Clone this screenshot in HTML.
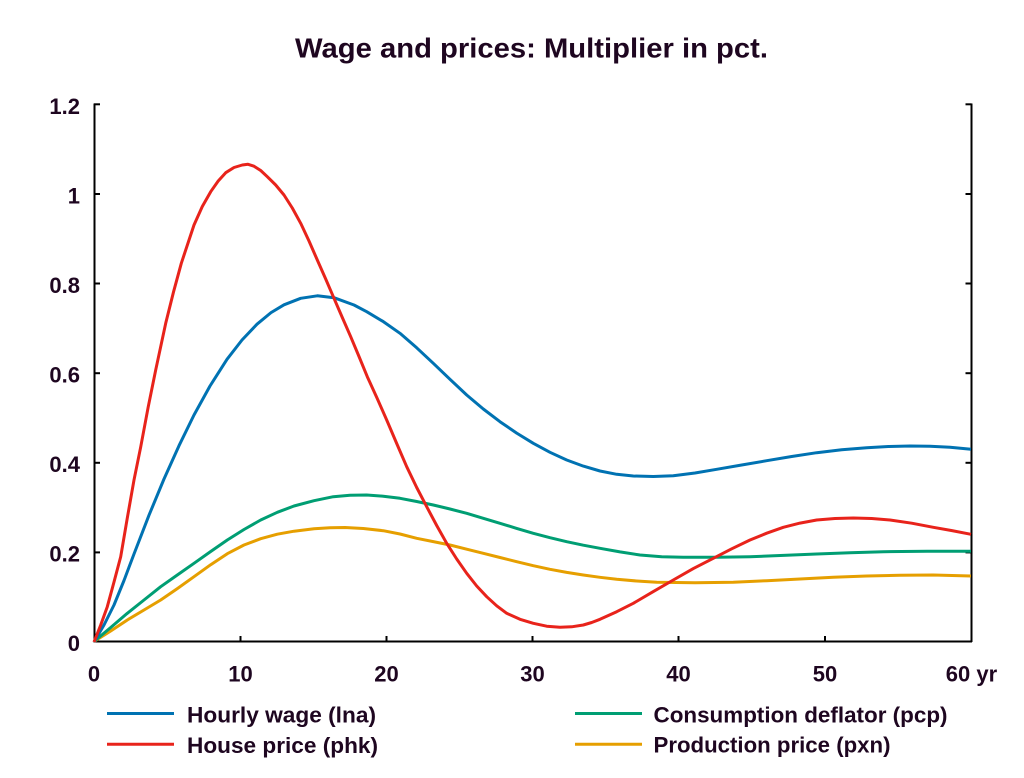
<!DOCTYPE html>
<html>
<head>
<meta charset="utf-8">
<style>
  html,body{margin:0;padding:0;background:#fff;}
  svg{display:block;}
  text{font-family:"Liberation Sans", Arial, sans-serif;fill:#1e0620;font-weight:bold;}
</style>
</head>
<body>
<svg width="1024" height="778" viewBox="0 0 1024 778" xmlns="http://www.w3.org/2000/svg">
  <rect x="0" y="0" width="1024" height="778" fill="#fff"/>

  <!-- Title -->
  <text x="295" y="57.5" font-size="28" textLength="473" lengthAdjust="spacingAndGlyphs">Wage and prices: Multiplier in pct.</text>

  <!-- Axes -->
  <g stroke="#000" stroke-width="2" fill="none">
    <line x1="94.5" y1="103.5" x2="94.5" y2="642"/>
    <line x1="93.5" y1="641.5" x2="972" y2="641.5"/>
    <line x1="971.5" y1="103.5" x2="971.5" y2="642"/>
    <!-- left ticks -->
    <line x1="94" y1="104.3" x2="100" y2="104.3"/>
    <line x1="94" y1="194" x2="100" y2="194"/>
    <line x1="94" y1="283.5" x2="100" y2="283.5"/>
    <line x1="94" y1="373.2" x2="100" y2="373.2"/>
    <line x1="94" y1="462.8" x2="100" y2="462.8"/>
    <line x1="94" y1="552.4" x2="100" y2="552.4"/>
    <!-- right ticks -->
    <line x1="965.5" y1="104.3" x2="971.5" y2="104.3"/>
    <line x1="965.5" y1="194" x2="971.5" y2="194"/>
    <line x1="965.5" y1="283.5" x2="971.5" y2="283.5"/>
    <line x1="965.5" y1="373.2" x2="971.5" y2="373.2"/>
    <line x1="965.5" y1="462.8" x2="971.5" y2="462.8"/>
    <line x1="965.5" y1="552.4" x2="971.5" y2="552.4"/>
    <!-- bottom ticks -->
    <line x1="240.5" y1="636" x2="240.5" y2="642"/>
    <line x1="386.5" y1="636" x2="386.5" y2="642"/>
    <line x1="532.5" y1="636" x2="532.5" y2="642"/>
    <line x1="678.5" y1="636" x2="678.5" y2="642"/>
    <line x1="825" y1="636" x2="825" y2="642"/>
  </g>

  <!-- Y tick labels -->
  <g font-size="22" text-anchor="end">
    <text x="80" y="113.8">1.2</text>
    <text x="80" y="203.3">1</text>
    <text x="80" y="292.8">0.8</text>
    <text x="80" y="382.5">0.6</text>
    <text x="80" y="472.1">0.4</text>
    <text x="80" y="561.7">0.2</text>
    <text x="80" y="651">0</text>
  </g>

  <!-- X tick labels -->
  <g font-size="22" text-anchor="middle">
    <text x="94" y="681.5">0</text>
    <text x="240.5" y="681.5">10</text>
    <text x="386.5" y="681.5">20</text>
    <text x="532.5" y="681.5">30</text>
    <text x="678.5" y="681.5">40</text>
    <text x="825" y="681.5">50</text>
    <text x="971.5" y="681.5">60 yr</text>
  </g>

  <!-- Series -->
  <g fill="none" stroke-width="3" stroke-linejoin="round" stroke-linecap="butt">
    <!-- Orange: Production price -->
    <polyline stroke="#e69f00" points="94,641.5 110.7,631 127.3,620 144,610 160.7,600 177.3,588.6 194,576.7 210.7,564.7 227.3,553.7 244,545 260.7,538.7 277.3,534.2 294,531.2 314,528.8 330,527.8 345,527.5 363.3,528.5 383.3,530.7 400,534 416.7,538.3 433.3,541.6 450,545 466.7,549.2 483.3,553.3 500,557.5 516.7,561.7 533.3,565.7 550,569.3 566.7,572.4 583.3,575 600,577.3 616.7,579.3 636.7,581 656.7,582.3 695,582.8 733.3,582.3 766.7,580.7 800,579 833.3,577.3 866.7,576 900,575.3 933.3,575 971,576"/>
    <!-- Green: Consumption deflator -->
    <polyline stroke="#009e73" points="94,641.5 110.7,627.5 127.3,613.3 144,600 160.7,586.7 177.3,575 194,563.3 210.7,551.5 227.3,540 244,529.5 260.7,520 277.3,512.3 294,506 314,500.7 333.3,496.7 350,495.3 366.7,495 383.3,496.2 400,498.3 416.7,501.5 433.3,505 450,509 466.7,513.3 483.3,518.3 500,523.3 516.7,528.4 533.3,533.3 550,537.7 566.7,541.7 583.3,545.2 600,548.3 620,551.9 640,555 661.7,556.7 683.3,557.3 716.7,557.3 750,556.7 783.3,555.4 816.7,554 850,552.7 883.3,551.7 927,551.3 971,551.3"/>
    <!-- Blue: Hourly wage -->
    <polyline stroke="#0072b2" points="94,642 104,625 114,605 124,580.5 134,554 149,515.2 164,479 179,445.7 194,415 210,386 227,359.3 242,340 257,324.2 271,312.6 284,304.8 300.7,298.3 317.3,295.8 334,297.7 354,305 366.7,311.7 383.3,321.6 400,333.3 416.7,347.8 433.3,363.3 450,379.3 466.7,395 483.3,409 500,421.7 516.7,433.1 533.3,443.3 550,452.3 566.7,460 583.3,466.1 600,471 616.7,474.3 633.3,476 653.3,476.5 673.3,475.7 695,473 716.7,469.3 741.7,465 766.7,460.7 791.7,456.5 816.7,452.7 841.7,449.8 866.7,447.7 888.3,446.5 910,446 930,446.3 950,447.3 971,449.3"/>
    <!-- Red: House price -->
    <polyline stroke="#e8231b" points="94,642 100.7,625 107.3,606.7 114,582 120.7,556.7 127.3,518 134,480 140.7,447 148.2,407 155.7,370 165.7,323.3 173.5,292 181.3,263.3 194,225 202.3,206.5 210.7,191.7 218.2,181 225.7,172.7 234,167.5 242.3,165 248,164.3 254,166.2 260.7,170.5 267.3,176.7 275.7,185 284,195 292.3,208 300.7,223.3 309,241 317.3,260 325.7,279 334,298.3 342.3,317.5 350.7,336.7 359,356.5 367.3,376.7 377,398 386.7,420 396.7,443.5 406.7,466.7 416.7,487.5 426.7,506.7 436.7,525.5 446.7,543.3 456.7,559 466.7,573.3 476.7,586 486.7,596.7 496.7,605.8 506.7,613.3 520,619.3 533.3,623.3 546.7,626.2 560,627.3 571.7,626.8 583.3,625 591.7,622.5 600,619.3 616.7,611.7 633.3,603.3 653.3,591.6 673.3,580 693.3,568.6 713.3,558.3 731.7,548.8 750,540 766.7,533.2 783.3,527.3 800,523.1 816.7,520 835,518.5 853.3,518 871.7,518.5 890,520 911.7,523.2 933.3,527.3 952,530.6 971,534.3"/>
  </g>

  <!-- Legend -->
  <g stroke-width="3">
    <line x1="107" y1="713.5" x2="174" y2="713.5" stroke="#0072b2"/>
    <line x1="107" y1="744.3" x2="174" y2="744.3" stroke="#e8231b"/>
    <line x1="575" y1="713.5" x2="642" y2="713.5" stroke="#009e73"/>
    <line x1="575" y1="744.3" x2="642" y2="744.3" stroke="#e69f00"/>
  </g>
  <g font-size="22.5">
    <text x="187" y="722.5" textLength="189" lengthAdjust="spacingAndGlyphs">Hourly wage (lna)</text>
    <text x="187" y="753" textLength="191" lengthAdjust="spacingAndGlyphs">House price (phk)</text>
    <text x="653.5" y="722.5" textLength="294" lengthAdjust="spacingAndGlyphs">Consumption deflator (pcp)</text>
    <text x="653.5" y="752.5" textLength="237" lengthAdjust="spacingAndGlyphs">Production price (pxn)</text>
  </g>
</svg>
</body>
</html>
